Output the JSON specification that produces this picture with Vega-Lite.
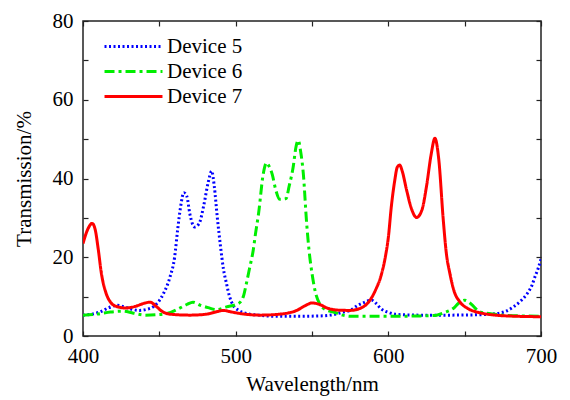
{
  "$schema": "https://vega.github.io/schema/vega-lite/v6.json",
  "width": 458,
  "height": 315,
  "autosize": "none",
  "padding": {"left": 83, "top": 21, "right": 29, "bottom": 64},
  "background": "white",
  "datasets": {
    "d": [
      {"device": "Device 5", "wl": 400, "t": 5.3},
      {"device": "Device 5", "wl": 405, "t": 5.5},
      {"device": "Device 5", "wl": 411, "t": 6.1},
      {"device": "Device 5", "wl": 417, "t": 7.2},
      {"device": "Device 5", "wl": 422, "t": 7.8},
      {"device": "Device 5", "wl": 427, "t": 7.4},
      {"device": "Device 5", "wl": 432, "t": 6.8},
      {"device": "Device 5", "wl": 437, "t": 6.5},
      {"device": "Device 5", "wl": 442, "t": 6.8},
      {"device": "Device 5", "wl": 446, "t": 7.4},
      {"device": "Device 5", "wl": 450, "t": 9},
      {"device": "Device 5", "wl": 453, "t": 11},
      {"device": "Device 5", "wl": 457, "t": 15},
      {"device": "Device 5", "wl": 460, "t": 20},
      {"device": "Device 5", "wl": 462, "t": 27},
      {"device": "Device 5", "wl": 464, "t": 33},
      {"device": "Device 5", "wl": 466, "t": 36.4},
      {"device": "Device 5", "wl": 468, "t": 35.5},
      {"device": "Device 5", "wl": 470, "t": 31},
      {"device": "Device 5", "wl": 473, "t": 27.7},
      {"device": "Device 5", "wl": 476, "t": 28.5},
      {"device": "Device 5", "wl": 479, "t": 33},
      {"device": "Device 5", "wl": 482, "t": 39},
      {"device": "Device 5", "wl": 484.3, "t": 41.9},
      {"device": "Device 5", "wl": 486, "t": 38},
      {"device": "Device 5", "wl": 488, "t": 30},
      {"device": "Device 5", "wl": 490, "t": 23},
      {"device": "Device 5", "wl": 492, "t": 17},
      {"device": "Device 5", "wl": 494, "t": 13.3},
      {"device": "Device 5", "wl": 496, "t": 10},
      {"device": "Device 5", "wl": 498.4, "t": 7.8},
      {"device": "Device 5", "wl": 502, "t": 6.5},
      {"device": "Device 5", "wl": 507, "t": 5.7},
      {"device": "Device 5", "wl": 515, "t": 5.3},
      {"device": "Device 5", "wl": 525, "t": 5.0},
      {"device": "Device 5", "wl": 540, "t": 5.0},
      {"device": "Device 5", "wl": 555, "t": 5.1},
      {"device": "Device 5", "wl": 562, "t": 5.3},
      {"device": "Device 5", "wl": 570, "t": 6},
      {"device": "Device 5", "wl": 575, "t": 6.5},
      {"device": "Device 5", "wl": 580, "t": 7.8},
      {"device": "Device 5", "wl": 584, "t": 8.5},
      {"device": "Device 5", "wl": 589, "t": 9.1},
      {"device": "Device 5", "wl": 592, "t": 8.3},
      {"device": "Device 5", "wl": 595, "t": 7},
      {"device": "Device 5", "wl": 600, "t": 6},
      {"device": "Device 5", "wl": 605, "t": 5.5},
      {"device": "Device 5", "wl": 620, "t": 5.3},
      {"device": "Device 5", "wl": 640, "t": 5.3},
      {"device": "Device 5", "wl": 660, "t": 5.4},
      {"device": "Device 5", "wl": 671, "t": 5.7},
      {"device": "Device 5", "wl": 677, "t": 6.3},
      {"device": "Device 5", "wl": 682, "t": 7.4},
      {"device": "Device 5", "wl": 687, "t": 9},
      {"device": "Device 5", "wl": 691, "t": 10.8},
      {"device": "Device 5", "wl": 694, "t": 12.8},
      {"device": "Device 5", "wl": 696, "t": 15},
      {"device": "Device 5", "wl": 698, "t": 17},
      {"device": "Device 5", "wl": 700, "t": 19.5},

      {"device": "Device 6", "wl": 400, "t": 5.3},
      {"device": "Device 6", "wl": 410, "t": 5.6},
      {"device": "Device 6", "wl": 418, "t": 6.1},
      {"device": "Device 6", "wl": 426, "t": 6.3},
      {"device": "Device 6", "wl": 433, "t": 5.8},
      {"device": "Device 6", "wl": 441, "t": 5.3},
      {"device": "Device 6", "wl": 448, "t": 5.4},
      {"device": "Device 6", "wl": 455, "t": 5.7},
      {"device": "Device 6", "wl": 462, "t": 6.8},
      {"device": "Device 6", "wl": 468, "t": 8},
      {"device": "Device 6", "wl": 472, "t": 8.6},
      {"device": "Device 6", "wl": 477, "t": 7.8},
      {"device": "Device 6", "wl": 482, "t": 7.2},
      {"device": "Device 6", "wl": 487.5, "t": 6.7},
      {"device": "Device 6", "wl": 494, "t": 7.4},
      {"device": "Device 6", "wl": 501.7, "t": 8.2},
      {"device": "Device 6", "wl": 505, "t": 10},
      {"device": "Device 6", "wl": 507, "t": 13.3},
      {"device": "Device 6", "wl": 509, "t": 17},
      {"device": "Device 6", "wl": 511.5, "t": 21.8},
      {"device": "Device 6", "wl": 513, "t": 26},
      {"device": "Device 6", "wl": 515, "t": 31.1},
      {"device": "Device 6", "wl": 518, "t": 41},
      {"device": "Device 6", "wl": 520.3, "t": 44},
      {"device": "Device 6", "wl": 522, "t": 43},
      {"device": "Device 6", "wl": 524, "t": 41},
      {"device": "Device 6", "wl": 526, "t": 37.5},
      {"device": "Device 6", "wl": 529, "t": 34.7},
      {"device": "Device 6", "wl": 533, "t": 34.9},
      {"device": "Device 6", "wl": 535, "t": 38},
      {"device": "Device 6", "wl": 537.7, "t": 43},
      {"device": "Device 6", "wl": 539.5, "t": 48},
      {"device": "Device 6", "wl": 541, "t": 49.7},
      {"device": "Device 6", "wl": 542.5, "t": 47},
      {"device": "Device 6", "wl": 544.3, "t": 41.3},
      {"device": "Device 6", "wl": 546.5, "t": 28.6},
      {"device": "Device 6", "wl": 548, "t": 22},
      {"device": "Device 6", "wl": 550, "t": 15.9},
      {"device": "Device 6", "wl": 552, "t": 11.5},
      {"device": "Device 6", "wl": 555, "t": 8.2},
      {"device": "Device 6", "wl": 560, "t": 6.5},
      {"device": "Device 6", "wl": 564, "t": 6.1},
      {"device": "Device 6", "wl": 570, "t": 5.3},
      {"device": "Device 6", "wl": 575, "t": 5.0},
      {"device": "Device 6", "wl": 600, "t": 5.0},
      {"device": "Device 6", "wl": 620, "t": 5.1},
      {"device": "Device 6", "wl": 631.6, "t": 5.3},
      {"device": "Device 6", "wl": 637, "t": 6},
      {"device": "Device 6", "wl": 642.5, "t": 7},
      {"device": "Device 6", "wl": 646, "t": 8.3},
      {"device": "Device 6", "wl": 650, "t": 9.1},
      {"device": "Device 6", "wl": 654, "t": 8.2},
      {"device": "Device 6", "wl": 660, "t": 6.1},
      {"device": "Device 6", "wl": 668, "t": 5.6},
      {"device": "Device 6", "wl": 675, "t": 5.3},
      {"device": "Device 6", "wl": 700, "t": 5.0},

      {"device": "Device 7", "wl": 400, "t": 23.5},
      {"device": "Device 7", "wl": 403, "t": 27},
      {"device": "Device 7", "wl": 406, "t": 28.6},
      {"device": "Device 7", "wl": 408, "t": 27},
      {"device": "Device 7", "wl": 410, "t": 22},
      {"device": "Device 7", "wl": 412, "t": 16},
      {"device": "Device 7", "wl": 415, "t": 11},
      {"device": "Device 7", "wl": 418, "t": 8.6},
      {"device": "Device 7", "wl": 422, "t": 7.5},
      {"device": "Device 7", "wl": 428, "t": 7.1},
      {"device": "Device 7", "wl": 434, "t": 7.5},
      {"device": "Device 7", "wl": 440, "t": 8.3},
      {"device": "Device 7", "wl": 444, "t": 8.6},
      {"device": "Device 7", "wl": 448, "t": 7.5},
      {"device": "Device 7", "wl": 452, "t": 6.2},
      {"device": "Device 7", "wl": 458, "t": 5.5},
      {"device": "Device 7", "wl": 470, "t": 5.3},
      {"device": "Device 7", "wl": 480, "t": 5.5},
      {"device": "Device 7", "wl": 488, "t": 6.2},
      {"device": "Device 7", "wl": 492, "t": 6.5},
      {"device": "Device 7", "wl": 496, "t": 6.2},
      {"device": "Device 7", "wl": 505, "t": 5.6},
      {"device": "Device 7", "wl": 516, "t": 5.3},
      {"device": "Device 7", "wl": 530, "t": 5.6},
      {"device": "Device 7", "wl": 540, "t": 6.5},
      {"device": "Device 7", "wl": 546, "t": 7.8},
      {"device": "Device 7", "wl": 550, "t": 8.4},
      {"device": "Device 7", "wl": 555, "t": 8.0},
      {"device": "Device 7", "wl": 560, "t": 7.1},
      {"device": "Device 7", "wl": 566, "t": 6.6},
      {"device": "Device 7", "wl": 575, "t": 6.5},
      {"device": "Device 7", "wl": 583, "t": 7.3},
      {"device": "Device 7", "wl": 588, "t": 9.1},
      {"device": "Device 7", "wl": 592, "t": 12},
      {"device": "Device 7", "wl": 595, "t": 15},
      {"device": "Device 7", "wl": 598, "t": 20},
      {"device": "Device 7", "wl": 600, "t": 25},
      {"device": "Device 7", "wl": 602, "t": 33},
      {"device": "Device 7", "wl": 604, "t": 39},
      {"device": "Device 7", "wl": 606, "t": 43},
      {"device": "Device 7", "wl": 607.5, "t": 43.4},
      {"device": "Device 7", "wl": 609, "t": 42},
      {"device": "Device 7", "wl": 612, "t": 37},
      {"device": "Device 7", "wl": 615, "t": 32.5},
      {"device": "Device 7", "wl": 618.5, "t": 30.1},
      {"device": "Device 7", "wl": 622, "t": 32},
      {"device": "Device 7", "wl": 625, "t": 38},
      {"device": "Device 7", "wl": 628, "t": 46},
      {"device": "Device 7", "wl": 630.5, "t": 50.2},
      {"device": "Device 7", "wl": 633, "t": 45},
      {"device": "Device 7", "wl": 636, "t": 29.4},
      {"device": "Device 7", "wl": 638, "t": 21},
      {"device": "Device 7", "wl": 640.3, "t": 15.9},
      {"device": "Device 7", "wl": 643, "t": 11.5},
      {"device": "Device 7", "wl": 647, "t": 8.6},
      {"device": "Device 7", "wl": 652, "t": 7},
      {"device": "Device 7", "wl": 660, "t": 5.9},
      {"device": "Device 7", "wl": 670, "t": 5.3},
      {"device": "Device 7", "wl": 685, "t": 5.0},
      {"device": "Device 7", "wl": 700, "t": 4.9}
    ]
  },
  "data": {"name": "d"},
  "layer": [
    {
      "mark": {"type": "line", "interpolate": "monotone", "strokeWidth": 3, "clip": true},
      "encoding": {
        "x": {
          "field": "wl", "type": "quantitative",
          "scale": {"domain": [400, 700], "nice": false, "zero": false, "padding": 0},
          "axis": {
            "orient": "bottom", "title": "Wavelength/nm",
            "values": [400, 450, 500, 550, 600, 650, 700],
            "labelExpr": "datum.value % 100 === 0 ? datum.label : ''",
            "labelFlush": false,
            "labelPadding": 14, "titlePadding": 7
          }
        },
        "y": {
          "field": "t", "type": "quantitative",
          "scale": {"domain": [0, 80], "nice": false, "zero": true, "padding": 0},
          "axis": {
            "orient": "left", "title": "Transmission/%",
            "values": [0, 10, 20, 30, 40, 50, 60, 70, 80],
            "labelExpr": "datum.value % 20 === 0 ? datum.label : ''",
            "labelFlush": false,
            "labelPadding": 15, "titlePadding": 18
          }
        },
        "color": {
          "field": "device", "type": "nominal",
          "scale": {"domain": ["Device 5", "Device 6", "Device 7"], "range": ["#0000ff", "#00ee00", "#ff0000"]},
          "legend": {"title": null}
        },
        "strokeDash": {
          "field": "device", "type": "nominal",
          "scale": {"domain": ["Device 5", "Device 6", "Device 7"], "range": [[2, 2.5], [10, 4, 3, 4], [1, 0]]},
          "legend": {"title": null}
        }
      }
    },
    {
      "mark": {"type": "line", "opacity": 0, "clip": true},
      "encoding": {
        "x": {
          "field": "wl", "type": "quantitative",
          "scale": {"domain": [400, 700], "nice": false, "zero": false, "padding": 0},
          "axis": {"orient": "top", "title": null, "labels": false, "values": [400, 450, 500, 550, 600, 650, 700]}
        },
        "y": {
          "field": "t", "type": "quantitative",
          "scale": {"domain": [0, 80], "nice": false, "zero": true, "padding": 0},
          "axis": {"orient": "right", "title": null, "labels": false, "values": [0, 10, 20, 30, 40, 50, 60, 70, 80]}
        },
        "detail": {"field": "device", "type": "nominal"}
      }
    }
  ],
  "resolve": {"axis": {"x": "independent", "y": "independent"}},
  "config": {
    "view": {"stroke": "#222222", "strokeWidth": 1.5},
    "axis": {
      "domain": false, "grid": false,
      "ticks": true, "tickColor": "#222222", "tickSize": -5, "tickWidth": 1.2,
      "labelFont": "Liberation Serif, Times New Roman, serif", "labelFontSize": 21, "labelColor": "black",
      "titleFont": "Liberation Serif, Times New Roman, serif", "titleFontSize": 21, "titleFontWeight": "normal", "titleColor": "black"
    },
    "legend": {
      "orient": "none", "legendX": 40, "legendY": 15, "padding": 0,
      "symbolType": "M-4,0H4", "symbolSize": 210, "symbolStrokeWidth": 3, "symbolFillColor": "transparent",
      "labelFont": "Liberation Serif, Times New Roman, serif", "labelFontSize": 21, "labelColor": "black", "labelOffset": 23, "labelLimit": 300,
      "rowPadding": 3
    }
  }
}
